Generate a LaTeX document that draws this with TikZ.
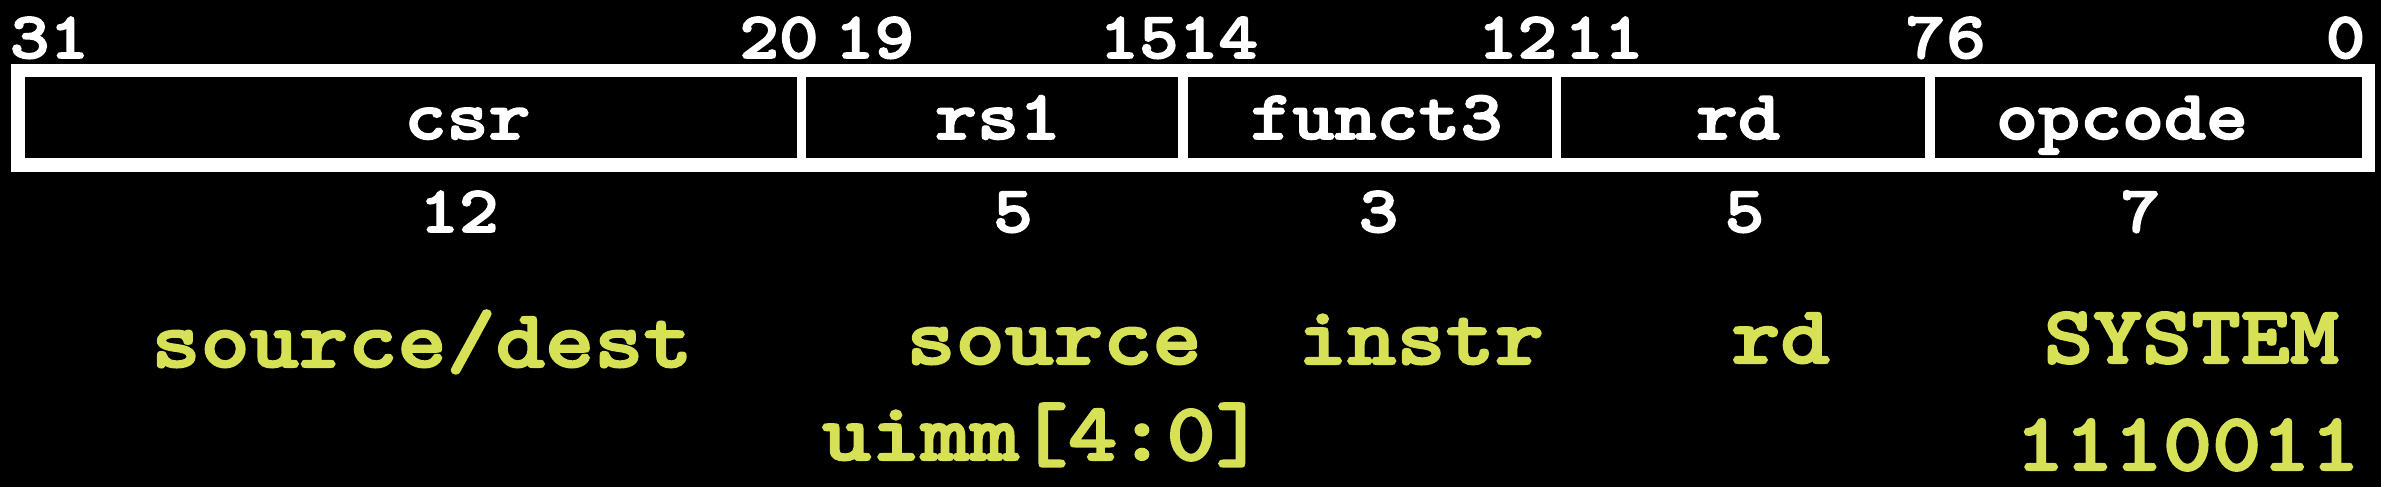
\documentclass[tikz,border=0pt]{standalone}
\usepackage{fontspec}
\newfontfamily\cour{lmmonolt10-bold.otf}[FakeStretch=1.143,FakeBold=2.5]
\definecolor{hl}{RGB}{215,225,85}
\tikzset{
  num/.style={text=white, font=\cour\fontsize{66}{70}\selectfont, inner sep=0pt, anchor=base},
  fld/.style={text=white, font=\cour\fontsize{70}{80}\selectfont, inner sep=0pt, anchor=base},
  note/.style={text=hl, font=\cour\fontsize{82}{90}\selectfont, inner sep=0pt, anchor=base},
  cellbox/.style={fill=black},
  frame/.style={fill=white}
}
\begin{document}
\begin{tikzpicture}[x=1pt,y=-1pt]
\fill[black] (0,0) rectangle (2381,487);
\useasboundingbox (0,0) rectangle (2381,487);
% frame and cells
\fill[frame] (11,64) rectangle (2375,172);
\fill[cellbox] (25,77) rectangle (797,158);
\fill[cellbox] (806,77) rectangle (1178,158);
\fill[cellbox] (1188,77) rectangle (1552,158);
\fill[cellbox] (1561,77) rectangle (1925,158);
\fill[cellbox] (1935,77) rectangle (2362,158);
% bit positions
\node[num] (b31) at (49.5,58) {31};
\node[num] (b20) at (779,58) {20};
\node[num] (b19) at (874.5,58) {19};
\node[num] (b15) at (1139,58) {15};
\node[num] (b14) at (1218.5,58) {14};
\node[num] (b12) at (1517.5,58) {12};
\node[num] (b11) at (1604,58) {11};
\node[num] (b7) at (1925.5,58) {7};
\node[num] (b6) at (1966,58) {6};
\node[num] (b0) at (2345.5,58) {0};
% field names
\node[fld] (fcsr) at (467.5,139) {csr};
\node[fld] (frs1) at (998,139) {rs1};
\node[fld] (ff3) at (1376.5,139) {funct3};
\node[fld] (frd) at (1738,139) {rd};
\node[fld] (fop) at (2122,139) {opcode};
% widths
\node[num] (w12) at (459,232) {12};
\node[num] (w5a) at (1013,232) {5};
\node[num] (w3) at (1378.5,232) {3};
\node[num] (w5b) at (1744.5,232) {5};
\node[num] (w7) at (2140.5,232) {7};
% notes
\node[note] (nsd) at (422,367) {source/dest};
\node[note] (nsrc) at (1054,364) {source};
\node[note] (ninstr) at (1421,364) {instr};
\node[note] (nrd) at (1780.5,363) {rd};
\node[note] (nsys) at (2191.5,363) {SYSTEM};
\node[note] (nuimm) at (1043.5,460) {uimm[4:0]};
\node[note] (ncode) at (2187.5,470) {1110011};
\end{tikzpicture}
\end{document}
